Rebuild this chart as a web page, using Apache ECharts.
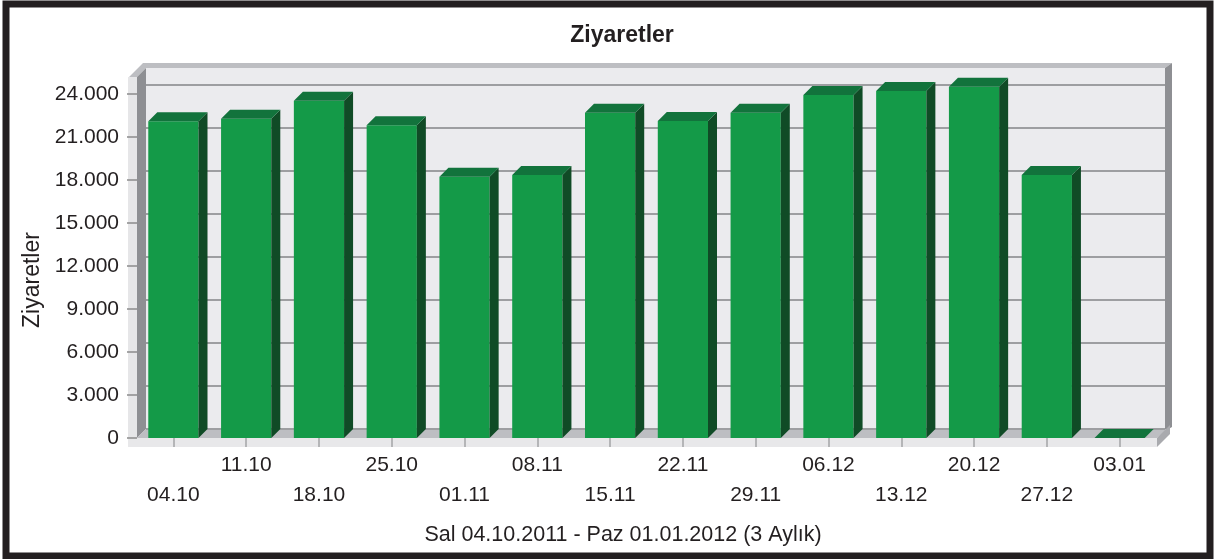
<!DOCTYPE html>
<html>
<head>
<meta charset="utf-8">
<script src="https://cdn.jsdelivr.net/npm/echarts@6/dist/echarts.min.js"></script>
<style>
  * { margin: 0; padding: 0; }
  html, body { background: #fff; }
</style>
</head>
<body>
<!-- chart container -->
<div id="main" style="width:1216px;height:559px;"></div>
<script>
  // data
  var weeks = ['04.10', '11.10', '18.10', '25.10', '01.11', '08.11', '15.11',
               '22.11', '29.11', '06.12', '13.12', '20.12', '27.12', '03.01'];
  var visits = [22100, 22280, 23530, 21820, 18230, 18350, 22700,
                22120, 22700, 23930, 24210, 24510, 18350, 0];
  var yTicks = [0, 3000, 6000, 9000, 12000, 15000, 18000, 21000, 24000];
  var titleText = 'Ziyaretler';
  var axisName = 'Ziyaretler';
  var rangeText = 'Sal 04.10.2011 - Paz 01.01.2012 (3 Aylık)';

  // plot frame (front plane) and 3d depth
  var L = 137, R = 1156, T = 94, B = 438, D = 9;
  var FONT = '"Liberation Sans", Arial, sans-serif';

  function fmt (v) {
    return String(v).replace(/\B(?=(\d{3})+(?!\d))/g, '.');
  }

  var chart = echarts.init(document.getElementById('main'));

  var wall = '#8e8f93', cap = '#bdbec2', face = '#e6e6e8';

  chart.setOption({
    animation: false,
    title: [{
      text: titleText,
      left: 617, top: 19, textAlign: 'center',
      textStyle: { fontFamily: FONT, fontSize: 23, fontWeight: 'bold', color: '#231f20' }
    }, {
      text: rangeText,
      left: 618, top: 519, textAlign: 'center',
      textStyle: { fontFamily: FONT, fontSize: 21.5, fontWeight: 'normal', color: '#231f20' }
    }],
    graphic: [
      // frame
      { type: 'rect', z: -20, shape: { x: 6, y: 4, width: 1204, height: 552 },
        style: { fill: '#fff', stroke: '#231f20', lineWidth: 7 } },
      // back wall
      { type: 'rect', z: -10, shape: { x: L + D, y: 68, width: 1165 - L - D, height: B - D - 68 },
        style: { fill: '#ebebee' } },
      // top cap
      { type: 'polygon', z: -10,
        shape: { points: [[128, 78], [143, 63], [1172, 63], [1165, 68], [L + D, 68], [L, 77]] },
        style: { fill: cap } },
      // left wall
      { type: 'rect', z: -10, shape: { x: 128, y: 77, width: L - 128, height: 447 - 77 },
        style: { fill: face } },
      { type: 'polygon', z: -10,
        shape: { points: [[L, 77], [L + D, 68], [L + D, B - D], [L, B]] },
        style: { fill: wall } },
      // right wall
      { type: 'polygon', z: -10,
        shape: { points: [[1165, 68], [1172, 63], [1172, 427], [1165, 431]] },
        style: { fill: wall } },
      // floor
      { type: 'polygon', z: -9,
        shape: { points: [[L, B], [L + D, B - D], [1168, B - D], [R + 1, B]] },
        style: { fill: cap } },
      { type: 'polygon', z: -9,
        shape: { points: [[R + 1, B], [1170, 425], [1170, 434], [R + 1, 447]] },
        style: { fill: '#a9aaae' } },
      { type: 'rect', z: -9, shape: { x: 128, y: B, width: R + 1 - 128, height: 9 },
        style: { fill: '#e8e8ea' } },
      // y axis name
      { type: 'text', x: 33, y: 280, rotation: Math.PI / 2,
        style: { text: axisName, font: '23px ' + FONT, fill: '#231f20',
                 align: 'center', verticalAlign: 'middle' } }
    ],
    grid: [
      { left: L, right: 1216 - R, top: T, bottom: 559 - B },
      // back wall plane, for the grid lines
      { left: L + D, right: 1216 - R - D, top: T - D, bottom: 559 - B + D }
    ],
    xAxis: [{
      type: 'category', gridIndex: 0, data: weeks,
      axisLine: { show: false },
      axisTick: { show: true, alignWithLabel: true, length: 9, lineStyle: { color: '#a3a4a7', width: 1.5 } },
      axisLabel: {
        interval: 0, margin: 12, lineHeight: 30,
        fontFamily: FONT, fontSize: 21, color: '#231f20',
        formatter: function (v, i) { return i % 2 === 0 ? '\n' + v : v; }
      }
    }, {
      type: 'category', gridIndex: 1, data: weeks, show: false
    }],
    yAxis: [{
      type: 'value', gridIndex: 0, min: 0, max: 24000, interval: 3000,
      axisLine: { show: false },
      axisTick: { show: true, length: 10, lineStyle: { color: '#8c8c8c', width: 1.5 } },
      splitLine: { show: false },
      axisLabel: {
        margin: 18, fontFamily: FONT, fontSize: 21, color: '#231f20',
        formatter: function (v) { return yTicks.indexOf(v) >= 0 ? fmt(v) : ''; }
      }
    }, {
      type: 'value', gridIndex: 1, min: 0, max: 24000, interval: 3000,
      axisLine: { show: false }, axisTick: { show: false }, axisLabel: { show: false },
      splitLine: { show: true, lineStyle: { color: '#9d9ea1', width: 2 } }
    }],
    series: [{
      name: 'Ziyaretler',
      type: 'custom',
      xAxisIndex: 0, yAxisIndex: 0,
      data: visits.map(function (v, i) { return [i, v]; }),
      renderItem: function (params, api) {
        var top = api.coord([api.value(0), api.value(1)]);
        var base = api.coord([api.value(0), 0]);
        var w = api.size([1, 0])[0] * 0.69;
        var x1 = top[0] - w / 2, x2 = top[0] + w / 2;
        var yT = top[1], yB = base[1];
        return {
          type: 'group',
          children: [{
            type: 'rect',
            shape: { x: x1, y: yT, width: w, height: yB - yT },
            style: { fill: '#149a48' }
          }, {
            type: 'polygon',
            shape: { points: [[x2, yT], [x2 + D, yT - D], [x2 + D, yB - D], [x2, yB]] },
            style: { fill: '#104b26' }
          }, {
            type: 'polygon',
            shape: { points: [[x1, yT], [x1 + D, yT - D], [x2 + D, yT - D], [x2, yT]] },
            style: { fill: '#12733c' }
          }]
        };
      }
    }]
  });
</script>
</body>
</html>
